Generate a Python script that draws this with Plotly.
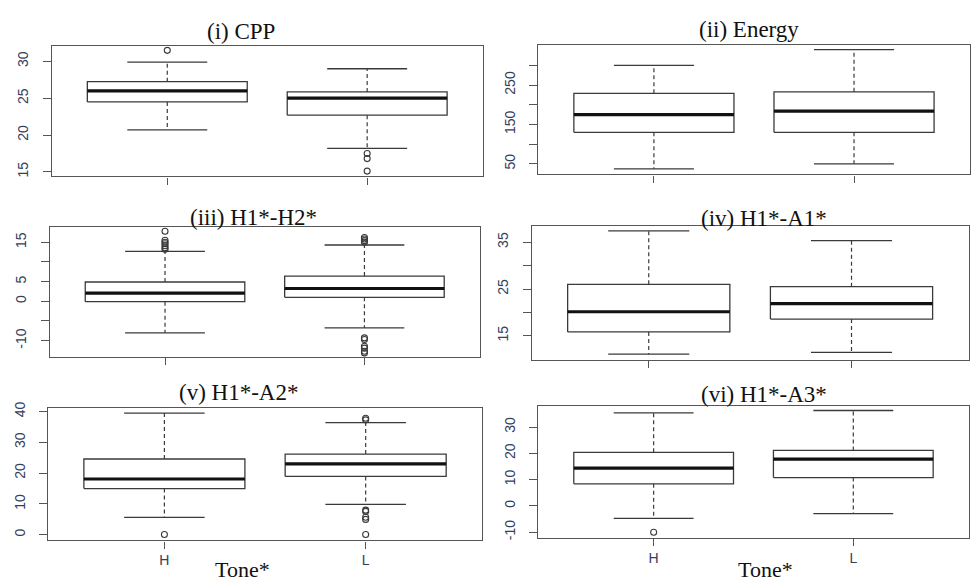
import plotly.graph_objects as go

# Tone groups
tones = ["H", "L"]

# Panel titles
titles = ["(i) CPP", "(ii) Energy", "(iii) H1*-H2*", "(iv) H1*-A1*",
          "(v) H1*-A2*", "(vi) H1*-A3*"]

# Box statistics per panel: [lower whisker, Q1, median, Q3, upper whisker]
cpp_H = [20.7, 24.5, 26.0, 27.25, 29.9]
cpp_L = [18.2, 22.7, 25.0, 25.85, 29.0]
energy_H = [37.5, 130, 175, 229, 300]
energy_L = [50, 130, 184, 233, 340]
h1h2_H = [-8.0, -0.1, 2.1, 4.9, 12.7]
h1h2_L = [-6.75, 1.0, 3.25, 6.4, 14.3]
h1a1_H = [11.1, 15.85, 20.15, 26.0, 37.4]
h1a1_L = [11.5, 18.6, 21.9, 25.5, 35.35]
h1a2_H = [5.65, 15.0, 18.1, 24.6, 39.5]
h1a2_L = [9.9, 18.95, 23.0, 26.2, 36.4]
h1a3_H = [-4.7, 8.4, 14.4, 20.4, 35.4]
h1a3_L = [-2.9, 10.8, 17.8, 21.1, 36.3]

# Outlying observations per panel
cpp_out_H = [31.5]
cpp_out_L = [17.5, 16.8, 15.1]
energy_out_H = []
energy_out_L = []
h1h2_out_H = [17.8, 15.5, 15.0, 14.6, 14.1, 13.6, 13.2]
h1h2_out_L = [16.2, 15.8, 15.4, 15.0, -9.3, -9.7, -11.4, -11.9, -12.7, -13.1]
h1a1_out_H = []
h1a1_out_L = []
h1a2_out_H = [0.1]
h1a2_out_L = [37.8, 37.3, 8.0, 7.6, 5.7, 5.0, 0.1]
h1a3_out_H = [-10.0]
h1a3_out_L = []

# Y-axis ticks (empty text = unlabeled tick)
ticks_cpp = [15, 20, 25, 30]
labels_cpp = ["15", "20", "25", "30"]
ticks_energy = [50, 100, 150, 200, 250, 300]
labels_energy = ["50", "", "150", "", "250", ""]
ticks_h1h2 = [-10, -5, 0, 5, 10, 15]
labels_h1h2 = ["-10", "", "0", "5", "", "15"]
ticks_h1a1 = [15, 20, 25, 30, 35]
labels_h1a1 = ["15", "", "25", "", "35"]
ticks_h1a2 = [0, 10, 20, 30, 40]
labels_h1a2 = ["0", "10", "20", "30", "40"]
ticks_h1a3 = [-10, 0, 10, 20, 30]
labels_h1a3 = ["-10", "0", "10", "20", "30"]

panels = [
    dict(stats=[cpp_H, cpp_L], out=[cpp_out_H, cpp_out_L],
         ticks=ticks_cpp, labels=labels_cpp, yr=[14.39, 32.04],
         px=[52, 483], py=[40, 172]),
    dict(stats=[energy_H, energy_L], out=[energy_out_H, energy_out_L],
         ticks=ticks_energy, labels=labels_energy, yr=[23.3, 350.8],
         px=[539, 970.5], py=[39, 170]),
    dict(stats=[h1h2_H, h1h2_L], out=[h1h2_out_H, h1h2_out_L],
         ticks=ticks_h1h2, labels=labels_h1h2, yr=[-14.2, 18.9],
         px=[50, 480], py=[223.3, 355.7]),
    dict(stats=[h1a1_H, h1a1_L], out=[h1a1_out_H, h1a1_out_L],
         ticks=ticks_h1a1, labels=labels_h1a1, yr=[9.9, 38.4],
         px=[532.3, 969.5], py=[222.7, 358.3]),
    dict(stats=[h1a2_H, h1a2_L], out=[h1a2_out_H, h1a2_out_L],
         ticks=ticks_h1a2, labels=labels_h1a2, yr=[-1.8, 41.0],
         px=[48.3, 482.3], py=[407.7, 541.7]),
    dict(stats=[h1a3_H, h1a3_L], out=[h1a3_out_H, h1a3_out_L],
         ticks=ticks_h1a3, labels=labels_h1a3, yr=[-12.2, 38.1],
         px=[539, 969.5], py=[405, 539.3]),
]

W, H = 971, 585
BOX_HALF = 0.4
STAPLE_HALF = 0.2
LINE = "#3a3a3a"
TICKCOL = "#34405a"
TICKFONT = dict(family="Liberation Sans, Arial, sans-serif", size=14, color=TICKCOL)

fig = go.Figure()
layout = {}

for k, p in enumerate(panels, start=1):
    xa, ya = f"x{k}", f"y{k}"
    bx, by, mx, my, wx, wy, sx, sy, ox, oy = ([] for _ in range(10))
    for i, (st, outs) in enumerate(zip(p["stats"], p["out"])):
        lo, q1, med, q3, hi = st
        bx += [i - BOX_HALF, i + BOX_HALF, i + BOX_HALF, i - BOX_HALF, i - BOX_HALF, None]
        by += [q1, q1, q3, q3, q1, None]
        mx += [i - BOX_HALF, i + BOX_HALF, None]
        my += [med, med, None]
        wx += [i, i, None, i, i, None]
        wy += [q3, hi, None, q1, lo, None]
        sx += [i - STAPLE_HALF, i + STAPLE_HALF, None, i - STAPLE_HALF, i + STAPLE_HALF, None]
        sy += [hi, hi, None, lo, lo, None]
        ox += [i] * len(outs)
        oy += list(outs)

    common = dict(xaxis=xa, yaxis=ya, showlegend=False, hoverinfo="skip")
    fig.add_trace(go.Scatter(x=wx, y=wy, mode="lines",
                             line=dict(color=LINE, width=1.2, dash="4px,3px"), **common))
    fig.add_trace(go.Scatter(x=sx, y=sy, mode="lines",
                             line=dict(color=LINE, width=1.3), **common))
    fig.add_trace(go.Scatter(x=bx, y=by, mode="lines",
                             line=dict(color=LINE, width=1.3), **common))
    fig.add_trace(go.Scatter(x=mx, y=my, mode="lines",
                             line=dict(color="#111111", width=3.2), **common))
    if ox:
        fig.add_trace(go.Scatter(x=ox, y=oy, mode="markers",
                                 marker=dict(symbol="circle-open", size=6,
                                             color=LINE, line=dict(width=1.1)),
                                 **common))

    suffix = "" if k == 1 else str(k)
    layout[f"xaxis{suffix}"] = dict(
        domain=[p["px"][0] / W, p["px"][1] / W], anchor=ya,
        range=[-0.577, 1.577], tickvals=[0, 1], ticktext=tones,
        showticklabels=k >= 5, ticks="outside", ticklen=7, tickwidth=1.2,
        tickcolor="#555555", showline=True, linecolor="#555555", linewidth=1.3,
        mirror=True, showgrid=False, zeroline=False, ticklabelstandoff=0,
        tickfont=TICKFONT,
    )
    layout[f"yaxis{suffix}"] = dict(
        domain=[1 - p["py"][1] / H, 1 - p["py"][0] / H], anchor=xa,
        range=p["yr"], tickvals=p["ticks"], ticktext=p["labels"], tickangle=-90,
        ticks="outside", ticklen=8, tickwidth=1.2, tickcolor="#555555",
        showline=True, linecolor="#555555", linewidth=1.3, mirror=True,
        showgrid=False, zeroline=False, ticklabelstandoff=9,
        tickfont=TICKFONT,
    )

# Title positions (pixel centres)
title_pos = [(241, 25), (750, 23), (254, 214), (765, 215), (239, 392), (765, 394)]
annotations = []
for t, (cx, cy) in zip(titles, title_pos):
    annotations.append(dict(text=t, x=cx / W, y=1 - cy / H, xref="paper", yref="paper",
                            xanchor="center", yanchor="middle", showarrow=False,
                            font=dict(family="Liberation Serif, Times New Roman, serif",
                                      size=23, color="#111111")))
for cx in (243, 766):
    annotations.append(dict(text="Tone*", x=cx / W, y=1 - 571 / H, xref="paper", yref="paper",
                            xanchor="center", yanchor="middle", showarrow=False,
                            font=dict(family="Liberation Serif, Times New Roman, serif",
                                      size=22, color="#111111")))

fig.update_layout(
    width=W, height=H, margin=dict(l=0, r=0, t=0, b=0),
    paper_bgcolor="white", plot_bgcolor="white",
    annotations=annotations, **layout,
)

fig.write_html("out.html")
